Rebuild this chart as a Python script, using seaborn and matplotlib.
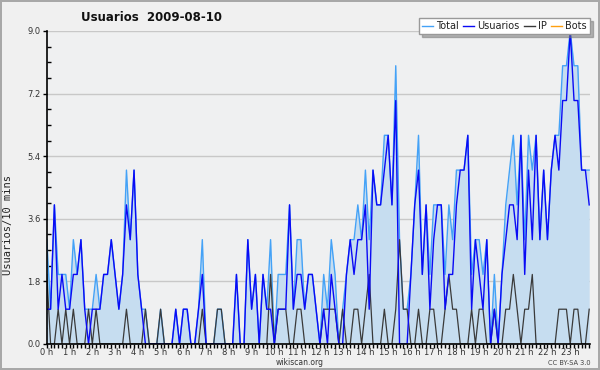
import numpy as np
import pandas as pd
import matplotlib
matplotlib.use("Agg")
import matplotlib.pyplot as plt
from matplotlib.lines import Line2D
from matplotlib.ticker import MultipleLocator, FuncFormatter
import seaborn as sns

# --- data (one value every 10 minutes, 144 slots) ---
usuarios = [1, 1, 4, 1, 2, 1, 1, 2, 2, 3, 1, 0, 1, 1, 1, 2, 2, 3, 2, 1, 2, 4, 3, 5,
            2, 1, 0, 0, 0, 0, 0, 0, 0, 0, 1, 0, 1, 1, 0, 0, 1, 2, 0, 0, 0, 0, 0, 0,
            0, 0, 2, 0, 0, 3, 1, 2, 0, 2, 1, 1, 0, 1, 1, 1, 4, 1, 2, 2, 1, 2, 2, 1,
            0, 1, 0, 2, 1, 0, 0, 2, 3, 2, 3, 3, 4, 1, 5, 4, 4, 5, 6, 4, 7, 0, 0, 0,
            2, 4, 5, 2, 4, 1, 3, 4, 4, 1, 2, 2, 4, 5, 5, 6, 1, 3, 2, 1, 3, 0, 1, 0,
            2, 3, 4, 4, 3, 6, 2, 5, 3, 6, 3, 5, 3, 5, 6, 5, 7, 7, 9, 7, 7, 5, 5, 4]
ip = [2, 0, 0, 1, 0, 1, 0, 1, 0, 0, 0, 1, 0, 1, 0, 0, 0, 0, 0, 0, 0, 1, 0, 0,
      0, 0, 1, 0, 0, 0, 1, 0, 0, 0, 0, 0, 0, 0, 0, 0, 0, 1, 0, 0, 0, 1, 1, 0,
      0, 0, 0, 0, 0, 0, 0, 0, 0, 0, 0, 2, 0, 1, 1, 1, 0, 0, 1, 1, 0, 0, 0, 0,
      0, 1, 1, 1, 1, 0, 1, 0, 0, 1, 1, 0, 1, 2, 0, 0, 0, 1, 0, 0, 1, 3, 1, 1,
      0, 0, 1, 0, 0, 1, 1, 0, 0, 1, 2, 1, 1, 0, 0, 0, 1, 0, 1, 1, 0, 0, 1, 0,
      0, 1, 1, 2, 1, 0, 1, 1, 2, 0, 0, 0, 0, 0, 0, 1, 1, 1, 0, 1, 1, 0, 0, 1]
total = [3, 1, 4, 2, 2, 2, 1, 3, 2, 3, 1, 1, 1, 2, 1, 2, 2, 3, 2, 1, 2, 5, 3, 5,
         2, 1, 1, 0, 0, 0, 1, 0, 0, 0, 1, 0, 1, 1, 0, 0, 1, 3, 0, 0, 0, 1, 1, 0,
         0, 0, 2, 0, 0, 3, 1, 2, 0, 2, 1, 3, 0, 2, 2, 2, 4, 1, 3, 3, 1, 2, 2, 1,
         0, 2, 1, 3, 2, 0, 1, 2, 3, 3, 4, 3, 5, 3, 5, 4, 4, 6, 6, 4, 8, 3, 1, 1,
         2, 4, 6, 2, 4, 2, 4, 4, 4, 2, 4, 3, 5, 5, 5, 6, 2, 3, 3, 2, 3, 0, 2, 0,
         2, 4, 5, 6, 4, 6, 3, 6, 5, 6, 3, 5, 3, 5, 6, 6, 8, 8, 9, 8, 8, 5, 5, 5]
bots = [0] * 144
hour_labels = [f"{h} h" for h in range(24)]
series_names = ["Total", "Usuarios", "IP", "Bots"]
series_colors = ["#44a2f7", "#0a0af5", "#3a3a3a", "#ffa010"]

df = pd.DataFrame({
    "hora": np.arange(len(total)) / 6.0,
    "Total": total,
    "Usuarios": usuarios,
    "IP": ip,
    "Bots": bots,
})

bg = "#eff0f1"
plt.rcParams["font.family"] = ["DejaVu Sans"]
fig = plt.figure(figsize=(6.0, 3.7), dpi=100, facecolor="#f0f0f0",
                 edgecolor="#a8a8a8", linewidth=1.5)
ax = fig.add_axes([0.078, 0.0703, 0.905, 0.846])
ax.set_facecolor(bg)

ax.fill_between(df["hora"], 0, df["Total"], color="#c6ddf0", zorder=1, lw=0)
sns.lineplot(data=df, x="hora", y="Bots", ax=ax, color=series_colors[3], lw=0.9, zorder=2)
sns.lineplot(data=df, x="hora", y="Total", ax=ax, color=series_colors[0], lw=1.0, zorder=3)
sns.lineplot(data=df, x="hora", y="IP", ax=ax, color=series_colors[2], lw=0.9, zorder=4)
sns.lineplot(data=df, x="hora", y="Usuarios", ax=ax, color=series_colors[1], lw=1.0, zorder=5)

ax.set_xlim(0, 23.86)
ax.set_ylim(0, 9)
ax.set_yticks(np.arange(0, 9.01, 1.8))
ax.yaxis.set_major_formatter(FuncFormatter(lambda v, p: f"{v:.1f}"))
ax.yaxis.set_minor_locator(MultipleLocator(0.45))
ax.set_xticks(np.arange(24))
ax.set_xticklabels(hour_labels)
ax.xaxis.set_minor_locator(MultipleLocator(1 / 6))
ax.grid(axis="y", color="#c8c8c8", lw=1.0, zorder=0)
ax.set_axisbelow(True)
for s in ["top", "right"]:
    ax.spines[s].set_visible(False)
for s in ["left", "bottom"]:
    ax.spines[s].set_color("black")
    ax.spines[s].set_linewidth(1.2)
    ax.spines[s].set_zorder(6)
ax.tick_params(axis="both", which="major", labelsize=6, length=3, width=1,
               color="black", labelcolor="#333333")
ax.tick_params(axis="y", which="major", pad=1.5)
ax.tick_params(axis="x", which="major", pad=0.2)
ax.tick_params(axis="y", which="minor", length=3, width=1, direction="in")
ax.tick_params(axis="x", which="minor", length=3, width=1, direction="out")
ax.set_xlabel("")
ax.set_ylabel("Usuarios/10 mins", family="DejaVu Sans Mono", fontsize=7.5,
              color="#222222")
ax.yaxis.set_label_coords(-0.063, 0.38)

fig.text(0.252, 0.952, "Usuarios  2009-08-10", ha="center", va="center",
         fontsize=8.5, fontweight="bold", color="#111111")
fig.text(0.5, 0.019, "wikiscan.org", ha="center", va="center", fontsize=5.5,
         color="#333333")
fig.text(0.985, 0.019, "CC BY-SA 3.0", ha="right", va="center", fontsize=4.8,
         color="#444444")

handles = [Line2D([], [], color=c, lw=1.0) for c in series_colors]
leg = fig.legend(handles, series_names, ncol=4, loc="upper right",
                 bbox_to_anchor=(0.983, 0.951), fontsize=7, handlelength=1.1,
                 handletextpad=0.35, columnspacing=0.45, borderpad=0.3,
                 borderaxespad=0, fancybox=False, shadow={"shade": 0.55},
                 frameon=True, edgecolor="#999999", facecolor="white", framealpha=1)
for t in leg.get_texts():
    t.set_color("#222222")

fig.savefig("out.png", dpi=100, facecolor=fig.get_facecolor(),
            edgecolor=fig.get_edgecolor())
